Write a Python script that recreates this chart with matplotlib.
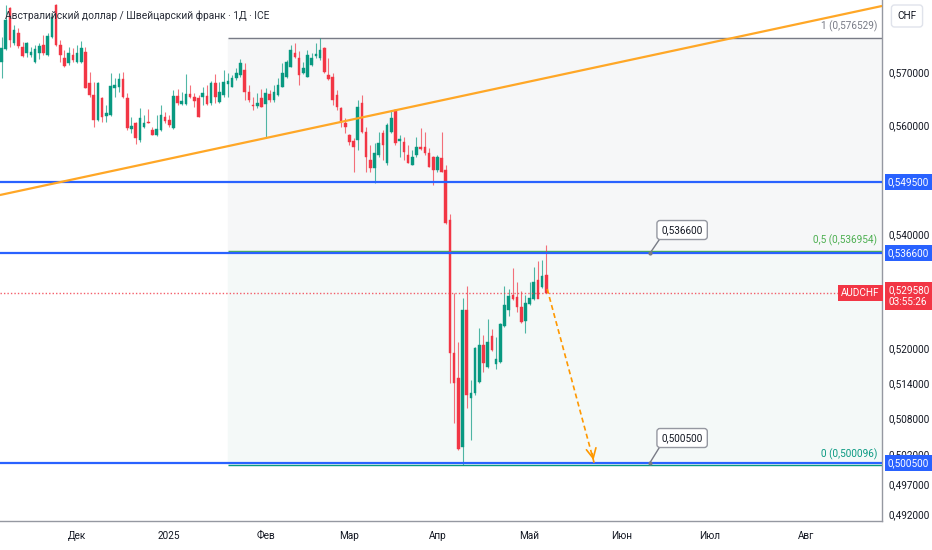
import numpy as np
import matplotlib
matplotlib.use("Agg")
import matplotlib.pyplot as plt
import matplotlib.transforms as mtransforms
from matplotlib import font_manager
from matplotlib.ticker import NullLocator

# narrow face if the box has one, otherwise a smaller Roboto
names = {f.name for f in font_manager.fontManager.ttflist}
if "Liberation Sans Narrow" in names:
    plt.rcParams["font.family"] = ["Liberation Sans Narrow", "DejaVu Sans"]
    FS, FS_TITLE = 8.5, 9
else:
    plt.rcParams["font.family"] = ["Roboto", "DejaVu Sans"]
    FS, FS_TITLE = 7.2, 7.4

# AUDCHF daily candles, 2024-11-06 .. 2025-05-07
start_day = "2024-11-06"
opens = [0.57188, 0.57436, 0.58225, 0.57551, 0.57742, 0.57474, 0.57360, 0.57322, 0.57188, 0.57360,
         0.57513, 0.57322, 0.57666, 0.58283, 0.57513, 0.57264, 0.57169, 0.57322, 0.57188, 0.57188,
         0.57379, 0.56790, 0.56564, 0.56095, 0.56508, 0.56170, 0.56189, 0.56696, 0.56715, 0.56866,
         0.56508, 0.55928, 0.56039, 0.55723, 0.55965, 0.56058, 0.55909, 0.55816, 0.55909, 0.56151,
         0.56095, 0.55946, 0.56545, 0.56395, 0.56395, 0.56583, 0.56526, 0.56508, 0.56526, 0.56545,
         0.56414, 0.56790, 0.56432, 0.56564, 0.56771, 0.56715, 0.56885, 0.56941, 0.57036, 0.56620,
         0.56376, 0.56357, 0.56508, 0.56395, 0.56583, 0.56470, 0.56564, 0.56715, 0.56904, 0.57093,
         0.57360, 0.57264, 0.56979, 0.56904, 0.57131, 0.57302, 0.57264, 0.57455, 0.56941, 0.56904,
         0.56564, 0.56320, 0.56039, 0.55816, 0.55705, 0.55723, 0.56414, 0.55872, 0.55354, 0.55207,
         0.55446, 0.55853, 0.55299, 0.55872, 0.56282, 0.55705, 0.55686, 0.55446, 0.55262, 0.55446,
         0.55594, 0.55594, 0.55483, 0.55409, 0.55170, 0.55391, 0.55170, 0.54260, 0.51911, 0.51481,
         0.50313, 0.52659, 0.51140, 0.51226, 0.51413, 0.52050, 0.51670, 0.52206, 0.51722, 0.51757,
         0.52380, 0.52659, 0.52923, 0.52888, 0.52712, 0.52467, 0.52765, 0.52853, 0.53188, 0.53064,
         0.53277]
highs = [0.57666, 0.58283, 0.58244, 0.57897, 0.57839, 0.57570, 0.57570, 0.57474, 0.57513, 0.57551,
         0.57704, 0.57742, 0.58128, 0.58302, 0.57608, 0.57417, 0.57474, 0.57455, 0.57513, 0.57589,
         0.57474, 0.56998, 0.56809, 0.56809, 0.56526, 0.56376, 0.56979, 0.56885, 0.56979, 0.56998,
         0.56602, 0.56151, 0.56058, 0.56320, 0.56189, 0.56301, 0.55965, 0.56189, 0.56376, 0.56245,
         0.56189, 0.56658, 0.56677, 0.56620, 0.56960, 0.56752, 0.56602, 0.56564, 0.56715, 0.56752,
         0.56828, 0.56960, 0.56809, 0.57036, 0.56979, 0.56941, 0.57074, 0.57245, 0.57169, 0.56752,
         0.56526, 0.56602, 0.56677, 0.56696, 0.56658, 0.56752, 0.56885, 0.57169, 0.57226, 0.57513,
         0.57551, 0.57398, 0.57188, 0.57417, 0.57360, 0.57551, 0.57653, 0.57474, 0.57264, 0.56979,
         0.56658, 0.56338, 0.56133, 0.55835, 0.55760, 0.56470, 0.56564, 0.55965, 0.55631, 0.55668,
         0.55872, 0.55909, 0.56039, 0.56282, 0.56300, 0.55816, 0.55779, 0.55631, 0.55538, 0.55779,
         0.55946, 0.55872, 0.55575, 0.55420, 0.55446, 0.55872, 0.55262, 0.54369, 0.52958, 0.52102,
         0.52870, 0.53082, 0.51447, 0.52010, 0.52345, 0.52223, 0.52502, 0.52328, 0.52189, 0.52425,
         0.53082, 0.53029, 0.53401, 0.53153, 0.52993, 0.52923, 0.53153, 0.53418, 0.53525, 0.53543,
         0.53811]
lows = [0.56885, 0.57417, 0.57474, 0.57513, 0.57455, 0.57283, 0.57283, 0.57283, 0.57169, 0.57245,
        0.57322, 0.57302, 0.57646, 0.57493, 0.57188, 0.57093, 0.57131, 0.57188, 0.57169, 0.57169,
        0.56690, 0.56526, 0.55965, 0.56076, 0.56058, 0.56058, 0.56170, 0.56526, 0.56620, 0.56508,
        0.55909, 0.55853, 0.55649, 0.55686, 0.55946, 0.56039, 0.55816, 0.55798, 0.55890, 0.56039,
        0.55965, 0.55928, 0.56376, 0.56376, 0.56376, 0.56508, 0.56338, 0.56145, 0.56376, 0.56376,
        0.56376, 0.56414, 0.56414, 0.56526, 0.56526, 0.56710, 0.56847, 0.56904, 0.56470, 0.56432,
        0.56282, 0.56320, 0.56330, 0.55760, 0.56432, 0.56432, 0.56545, 0.56710, 0.56885, 0.57088,
        0.57264, 0.56752, 0.56960, 0.56900, 0.57112, 0.57264, 0.57226, 0.56979, 0.56847, 0.56376,
        0.56282, 0.55965, 0.55853, 0.55631, 0.55133, 0.55538, 0.55853, 0.55133, 0.55133, 0.54932,
        0.55409, 0.55354, 0.55262, 0.55853, 0.55631, 0.55409, 0.55354, 0.55299, 0.55255, 0.55409,
        0.55538, 0.55446, 0.55220, 0.54895, 0.55133, 0.55130, 0.54188, 0.51396, 0.50717, 0.50263,
        0.50010, 0.50971, 0.50431, 0.51192, 0.51396, 0.51585, 0.51660, 0.51946, 0.51636, 0.51739,
        0.52363, 0.52554, 0.52835, 0.52624, 0.52432, 0.52258, 0.52747, 0.52835, 0.53047, 0.53047,
        0.52950]
closes = [0.57455, 0.57993, 0.57608, 0.57800, 0.57493, 0.57302, 0.57551, 0.57379, 0.57436, 0.57493,
          0.57360, 0.57685, 0.58051, 0.57513, 0.57322, 0.57112, 0.57360, 0.57226, 0.57360, 0.57455,
          0.56696, 0.56564, 0.56095, 0.56790, 0.56151, 0.56226, 0.56734, 0.56752, 0.56866, 0.56526,
          0.55946, 0.55984, 0.55760, 0.56133, 0.56039, 0.56045, 0.55825, 0.55928, 0.56189, 0.56076,
          0.56002, 0.56545, 0.56414, 0.56451, 0.56583, 0.56526, 0.56451, 0.56151, 0.56602, 0.56395,
          0.56790, 0.56526, 0.56620, 0.56809, 0.56828, 0.56885, 0.56979, 0.57169, 0.56620, 0.56470,
          0.56357, 0.56414, 0.56338, 0.56602, 0.56470, 0.56620, 0.56752, 0.56979, 0.57188, 0.57417,
          0.57283, 0.56941, 0.57074, 0.57322, 0.57264, 0.57341, 0.57417, 0.56998, 0.56866, 0.56470,
          0.56338, 0.56058, 0.55965, 0.55686, 0.55594, 0.56338, 0.55872, 0.55409, 0.55207, 0.55483,
          0.55668, 0.55631, 0.56002, 0.56133, 0.55668, 0.55742, 0.55501, 0.55305, 0.55409, 0.55594,
          0.55557, 0.55483, 0.55225, 0.55170, 0.55409, 0.55133, 0.54206, 0.51911, 0.51396, 0.50280,
          0.52659, 0.51192, 0.51226, 0.51998, 0.52050, 0.51739, 0.52102, 0.51963, 0.51808, 0.52415,
          0.52747, 0.52905, 0.52853, 0.52712, 0.52450, 0.52782, 0.52870, 0.53153, 0.52853, 0.53259,
          0.52958]

# horizontal levels drawn by hand
levels = [0.549500, 0.536600, 0.500500]
last_price = 0.529580
countdown = "03:55:26"

# fibonacci retracement (log scale): start bar, 1 level, 0 level
fib_start = 54
fib_hi = 0.576529
fib_lo = 0.500096

# trendline end points (bar, price)
trend_x = [-0.4, 210.1]
trend_y = [0.54713, 0.58264]

# projected move
proj_x = [130.2, 141.4]
proj_y = [0.53030, 0.50050]

y_ticks = [0.570, 0.560, 0.540, 0.520, 0.514, 0.508, 0.502, 0.497, 0.492]
month_days = ["2024-12-01", "2025-01-01", "2025-02-01", "2025-03-01", "2025-04-01",
              "2025-05-01", "2025-06-01", "2025-07-01", "2025-08-01"]
month_labels = ["Дек", "2025", "Фев", "Мар", "Апр", "Май", "Июн", "Июл", "Авг"]

GREEN = "#089981"
RED = "#f23645"
BLUE = "#2962ff"
ORANGE = "#ffa726"
TXT = "#131722"
fmt = lambda v: f"{v:.6f}".replace(".", ",")

fig = plt.figure(figsize=(9.32, 5.5), dpi=100)
ax = fig.add_axes([0, 29 / 550, 882 / 932, 521 / 550])
ax.set_yscale("log")
ax.set_xlim(-0.38, 210.1)
ax.set_ylim(0.49091, 0.58380)

n = len(closes)
x = np.arange(n)
o = np.array(opens)
c = np.array(closes)
up = c >= o
cols = np.where(up, GREEN, RED)

# fib zone
fib_mid = np.sqrt(fib_hi * fib_lo)
x0 = (fib_start + 0.38) / 210.48
ax.axhspan(fib_mid, fib_hi, xmin=x0, color="#f6f7f8", zorder=0)
ax.axhspan(fib_lo, fib_mid, xmin=x0, color="#f4f9f8", zorder=0)
for lvl, col, name in [(fib_hi, "#787b86", "1"), (fib_mid, "#4caf50", "0,5"), (fib_lo, GREEN, "0")]:
    ax.hlines(lvl, fib_start, 210.1, color=col, lw=1, zorder=1)
    ax.annotate(f"{name} ({fmt(lvl)})", xy=(209.0, lvl), xytext=(0, 4), textcoords="offset points",
                ha="right", va="bottom", fontsize=FS, color=col)

# candles
ax.vlines(x, lows, highs, color=cols, lw=0.8, alpha=0.7, zorder=3)
ax.bar(x, np.abs(c - o), bottom=np.minimum(o, c), width=0.62, color=cols,
       edgecolor=cols, linewidth=0.3, zorder=4)

# drawings
for lvl in levels:
    ax.axhline(lvl, color=BLUE, lw=1.6, zorder=5)
ax.axhline(last_price, color=RED, lw=1, ls=(0, (1, 1.5)), alpha=0.8, zorder=5)
ax.plot(trend_x, trend_y, color=ORANGE, lw=1.6, zorder=5, solid_capstyle="butt")
ax.plot(proj_x, proj_y, color="#ff9800", lw=1.2, ls=(0, (3, 2)), zorder=6)
ax.annotate("", xy=(proj_x[1], proj_y[1]), xytext=(proj_x[1] - 0.6, proj_y[1] * 1.004),
            arrowprops=dict(arrowstyle="->,head_length=0.7,head_width=0.35", color="#ff9800", lw=1.2),
            zorder=6)

# callouts
for lvl, box_y in [(levels[1], 0.54080), (levels[2], 0.50465)]:
    ax.plot([156.9, 154.7], [box_y * (1 - 0.0033), lvl], color="#787b86", lw=1, zorder=7)
    ax.text(162.4, box_y, fmt(lvl), ha="center", va="center", fontsize=FS, color=TXT, zorder=8,
            bbox=dict(boxstyle="round,pad=0.45,rounding_size=0.3", fc="white", ec="#9598a1", lw=1))
    ax.plot([154.7], [lvl], marker="o", ms=2, color="#787b86", zorder=8)

# axis frame
for s in ["top", "left"]:
    ax.spines[s].set_visible(False)
for s in ["right", "bottom"]:
    ax.spines[s].set_color("#9598a1")
    ax.spines[s].set_linewidth(1)

ax.yaxis.tick_right()
ax.yaxis.set_minor_locator(NullLocator())
ax.set_yticks(y_ticks)
ax.set_yticklabels([fmt(v) for v in y_ticks])
ax.tick_params(axis="y", length=0, pad=4.5, labelsize=FS, labelcolor=TXT)

month_pos = [np.busday_count(start_day, d) for d in month_days]
ax.set_xticks(month_pos)
ax.set_xticklabels(month_labels)
ax.xaxis.set_minor_locator(NullLocator())
ax.tick_params(axis="x", length=0, pad=7, labelsize=FS, labelcolor=TXT)

# price labels on the scale
tr = mtransforms.blended_transform_factory(ax.transAxes, ax.transData)
for lvl in levels:
    ax.text(1 + 6 / 882, lvl, fmt(lvl), transform=tr, ha="left", va="center", fontsize=FS,
            color="white", zorder=10, clip_on=False,
            bbox=dict(boxstyle="square,pad=0.3", fc=BLUE, ec="none"))
ax.annotate(fmt(last_price) + "\n" + countdown, xy=(1, last_price), xycoords=tr,
            xytext=(4.5, 6.0), textcoords="offset points", ha="left", va="top",
            fontsize=FS, color="white", linespacing=1.3, zorder=10, annotation_clip=False,
            bbox=dict(boxstyle="square,pad=0.3", fc=RED, ec="none"))
ax.text(0.9975, last_price, "AUDCHF", transform=tr, ha="right", va="center", fontsize=FS,
        color="white", zorder=10, bbox=dict(boxstyle="square,pad=0.3", fc=RED, ec="none"))

fig.text(907 / 932, 1 - 16 / 550, "CHF", ha="center", va="center", fontsize=FS, color=TXT,
         bbox=dict(boxstyle="round,pad=0.6,rounding_size=0.3", fc="white", ec="#e0e3eb", lw=1))
fig.text(5 / 932, 1 - 16 / 550, "Австралийский доллар / Швейцарский франк · 1Д · ICE",
         ha="left", va="center", fontsize=FS_TITLE, color="#2a2e39")

fig.savefig("out.png", dpi=100)
